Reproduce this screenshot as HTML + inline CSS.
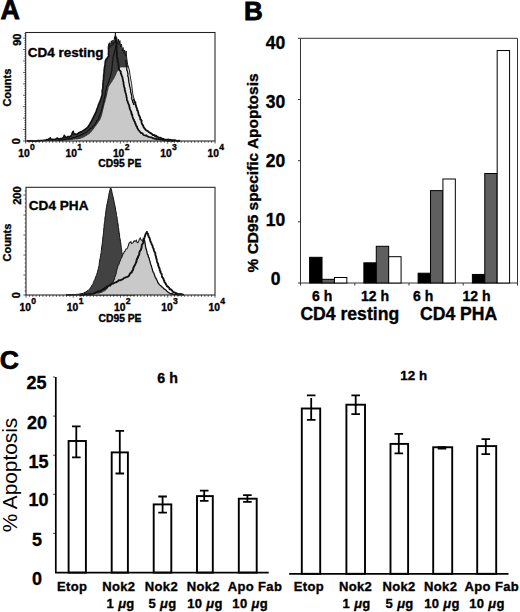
<!DOCTYPE html>
<html><head><meta charset="utf-8"><style>
html,body{margin:0;padding:0;background:#fff;}
svg{display:block;}
text{font-family:"Liberation Sans", sans-serif;fill:#000;stroke:#000;stroke-width:0.35px;}
</style></head><body>
<svg width="520" height="612" viewBox="0 0 520 612">
<rect width="520" height="612" fill="#fff"/>
<text x="0.6" y="19.2" font-size="26.8" font-weight="bold" text-anchor="start" style="stroke-width:0.8px">A</text>
<text x="244.0" y="19.6" font-size="26.0" font-weight="bold" text-anchor="start" style="stroke-width:0.8px">B</text>
<text x="-0.3" y="369.0" font-size="26.6" font-weight="bold" text-anchor="start" style="stroke-width:0.7px">C</text>
<g>
<polygon points="128.4,67.0 129.3,70.0 130.5,78.0 131.6,83.8 132.2,89.0 132.8,94.0 133.9,98.6 135.3,104.0 137.3,110.0 139.5,116.0 141.5,121.0 142.2,125.0 144.5,128.0 147.3,131.1 150.5,133.4 154.0,135.2 158.5,137.4 163.5,139.2 171.5,140.4 180.0,141.0 175.0,141.0 166.0,140.6 158.0,139.2 153.0,138.0 148.6,136.5 144.5,135.0 140.6,132.5 138.0,129.0 136.0,125.0 133.5,119.0 131.6,114.0 130.4,110.0 128.6,104.5 126.6,98.0 125.8,94.0 125.0,90.0 124.2,86.0 123.2,81.5 121.9,76.2 120.5,72.0 118.8,67.7" fill="#e6e6e6" stroke="none"/>
<polygon points="27.0,141.0 28.0,141.1 29.0,140.9 29.8,141.0 31.0,140.8 32.1,141.1 33.0,140.7 34.0,140.7 34.9,140.9 35.8,140.8 37.0,140.5 38.1,140.5 39.1,140.9 40.0,140.4 41.0,140.6 42.2,140.4 43.1,140.8 44.1,140.6 44.9,140.6 46.0,140.5 47.2,139.7 48.1,139.9 48.9,138.7 50.3,137.8 51.0,138.8 51.6,139.6 52.8,139.9 53.9,139.4 55.2,139.0 56.2,138.5 57.5,138.6 59.1,139.2 59.9,139.0 60.8,138.6 62.1,138.1 63.1,137.8 63.7,136.9 64.2,135.9 65.1,136.5 65.7,137.5 67.0,137.2 67.9,137.0 69.2,136.4 70.5,136.0 71.2,135.3 71.9,134.8 72.3,133.6 72.6,132.2 72.9,131.3 73.5,132.4 73.9,133.7 74.2,134.2 75.6,134.1 76.6,134.2 77.5,133.6 78.4,133.1 79.5,132.4 80.5,132.1 81.6,131.7 82.9,130.6 83.8,130.3 85.0,129.8 85.8,129.0 86.3,128.4 87.2,127.5 87.9,126.8 88.8,125.8 89.4,124.8 89.9,123.6 90.6,122.4 91.0,121.8 91.6,120.6 92.5,119.4 92.8,118.7 93.4,117.7 94.0,116.3 94.3,115.4 94.7,114.7 95.5,113.6 95.7,112.7 96.3,111.5 96.7,110.5 96.8,109.3 97.2,108.3 97.7,107.5 98.2,106.4 98.7,104.9 99.0,103.8 99.6,102.8 99.8,101.7 100.5,100.3 100.9,99.1 101.0,98.1 101.6,97.4 102.0,95.9 102.2,94.9 102.0,94.2 102.3,93.1 102.4,92.3 102.4,91.2 102.6,90.1 102.6,88.9 102.7,87.5 102.7,86.6 102.7,85.6 102.9,83.9 102.9,83.4 103.1,81.8 103.1,80.6 103.5,79.9 103.6,78.8 103.4,77.7 103.6,76.7 103.9,75.6 103.7,74.5 104.2,73.5 104.0,71.9 104.1,70.7 104.5,70.1 104.5,69.0 104.7,67.6 104.6,66.3 105.0,65.3 104.9,64.3 104.9,63.1 105.2,62.2 105.3,60.9 106.1,59.8 106.7,59.1 107.0,58.1 107.8,57.6 108.4,56.7 108.6,55.3 108.7,54.1 108.8,53.0 108.5,51.8 108.8,51.3 108.5,50.0 108.6,49.2 108.5,48.0 108.6,47.1 108.7,46.1 109.0,44.6 109.5,43.7 109.5,42.8 109.7,44.1 110.2,45.3 110.4,46.2 110.5,47.4 110.8,46.1 110.9,45.0 110.8,44.0 111.2,43.0 111.1,42.1 111.2,40.8 111.5,42.0 111.7,43.0 111.7,43.8 111.8,45.2 112.2,46.1 112.1,45.0 112.5,44.0 112.4,43.0 112.8,41.8 112.6,40.9 113.0,40.2 113.0,40.9 113.2,42.1 113.5,43.2 113.6,44.3 114.0,43.6 113.8,42.6 113.9,41.2 114.4,40.3 114.4,39.0 114.3,38.1 114.3,36.7 114.7,37.7 114.9,39.2 115.1,37.9 115.1,36.8 115.0,35.9 115.2,34.9 115.5,33.6 115.4,32.7 115.5,33.5 115.7,35.0 115.8,35.9 115.9,37.0 115.9,37.9 115.8,39.1 116.5,37.5 116.9,38.6 117.0,39.4 117.1,40.5 117.3,41.4 117.4,42.8 117.4,43.6 117.8,42.3 117.9,41.5 117.9,40.2 118.2,39.2 118.6,40.1 118.5,41.2 118.8,42.4 118.9,43.5 119.2,44.5 119.3,43.8 119.4,42.6 119.7,41.7 119.7,40.8 120.0,41.3 120.1,42.6 120.1,43.7 120.4,45.0 120.5,45.8 120.6,47.1 121.1,46.0 121.1,45.2 121.5,43.8 121.5,45.2 121.9,46.1 121.8,47.0 121.8,48.3 122.0,49.1 122.3,50.2 122.3,50.9 122.6,49.6 123.0,48.6 123.2,47.4 123.2,48.4 123.3,49.5 123.3,50.9 123.5,51.7 123.7,52.9 123.9,54.1 124.2,52.9 124.5,52.2 124.3,51.2 124.9,50.2 124.7,51.2 125.0,51.7 124.9,53.3 125.3,53.9 125.2,54.8 125.4,56.2 125.6,54.8 125.9,54.2 125.7,53.2 126.0,52.2 126.2,51.2 126.3,52.2 126.1,53.1 126.4,54.1 126.4,55.2 126.5,55.9 126.5,56.8 126.7,57.8 126.9,58.9 127.0,60.1 127.2,61.4 127.1,62.4 127.4,63.3 127.7,64.5 127.9,65.6 128.6,66.7 127.4,67.2 126.1,67.2 125.3,67.5 124.1,67.6 123.1,67.4 122.2,67.2 121.0,67.6 119.8,67.8 118.7,67.7 119.2,68.9 119.5,69.8 120.0,71.0 120.6,71.9 121.0,73.0 121.2,74.0 121.6,75.4 122.0,76.4 122.1,77.2 122.3,78.4 122.7,79.6 122.8,80.6 123.4,81.5 123.3,82.5 123.5,83.6 124.1,84.9 124.3,86.2 124.6,87.1 124.6,88.1 124.9,89.1 125.1,89.8 125.3,91.0 125.5,91.8 125.5,92.7 125.9,94.2 126.1,94.9 126.3,96.2 126.4,96.9 126.5,98.0 126.9,99.0 127.3,100.4 127.4,101.3 127.7,102.1 128.4,103.5 128.8,104.5 128.8,105.5 129.4,107.0 129.9,107.8 130.0,108.7 130.5,109.8 130.6,110.7 130.8,112.1 131.1,113.3 131.4,114.2 131.8,114.7 132.4,115.8 132.8,116.8 132.9,118.2 133.6,119.2 134.0,119.8 134.4,121.1 134.7,122.3 135.1,123.3 135.7,123.7 135.8,125.1 136.6,125.7 136.9,127.1 137.4,128.2 138.0,128.7 138.6,129.9 139.3,130.9 139.8,131.8 140.5,132.6 141.6,133.1 142.5,133.9 143.7,134.5 144.5,134.9 145.3,135.7 146.6,135.9 147.5,136.2 148.8,136.7 149.7,136.8 150.8,137.5 151.9,137.7 153.0,138.2 154.1,138.1 154.8,138.3 156.0,138.8 157.1,139.2 157.8,139.4 159.1,139.6 160.0,139.4 161.1,139.9 162.1,140.1 162.9,139.8 164.0,140.4 164.9,140.6 166.2,140.4 167.0,140.8 168.0,140.5 168.9,140.9 170.1,140.8 170.8,141.0 172.1,140.7 173.0,141.1 174.2,141.0 175.0,141.0" fill="#3c3c3c" stroke="none"/>
<polygon points="55.0,141.0 56.0,141.0 56.9,140.9 57.9,141.0 59.0,140.9 60.0,140.9 60.9,140.7 62.1,140.8 62.9,140.8 64.1,140.6 65.0,140.5 66.0,140.4 66.9,140.6 68.1,140.4 69.0,140.2 70.2,140.1 71.3,140.1 72.4,140.0 73.4,139.6 74.5,139.5 75.6,139.3 76.7,139.4 77.7,139.3 78.8,138.9 79.8,138.9 81.0,138.6 82.2,138.0 83.5,137.6 84.5,136.9 85.5,136.3 86.6,135.9 87.4,135.0 88.5,134.4 89.6,133.9 90.3,132.8 91.1,132.2 91.8,131.4 92.4,130.4 93.2,129.8 93.9,128.8 94.5,128.1 95.0,127.1 95.7,126.2 96.4,125.4 96.9,124.5 97.7,123.4 98.4,122.4 98.9,121.6 99.5,120.7 100.3,119.7 100.7,118.6 101.1,117.5 101.7,116.2 102.0,115.0 102.3,114.0 102.5,112.9 102.7,111.9 103.0,111.0 103.2,110.1 103.4,109.0 103.7,107.9 104.0,107.0 104.1,106.0 104.4,105.1 104.6,104.1 104.9,103.1 105.3,101.9 105.5,100.9 105.7,99.9 106.0,99.1 106.4,98.1 106.5,96.9 106.9,95.9 107.0,94.9 107.3,93.9 107.5,93.0 107.5,91.9 107.9,91.0 108.1,90.0 108.5,88.9 108.6,87.8 108.7,87.0 109.4,85.9 109.9,84.9 110.6,84.0 111.2,83.0 111.8,82.2 112.5,81.3 112.9,80.2 113.6,79.4 114.2,78.4 114.7,77.5 115.2,76.6 115.6,75.4 116.1,74.5 116.6,73.4 116.9,72.6 117.5,71.4 118.0,70.5 119.4,70.5 119.8,71.5 120.1,72.6 120.6,73.6 120.8,74.6 121.2,75.6 121.5,76.6 122.0,77.5 122.3,78.5 122.7,79.4 123.1,80.4 123.3,81.4 123.7,82.7 124.0,83.6 124.4,84.8 124.6,86.0 125.0,87.0 125.2,87.9 125.5,89.1 125.6,89.9 125.8,91.0 125.9,91.9 126.0,92.9 126.2,94.1 126.2,95.0 126.4,95.9 126.6,97.1 126.8,98.0 127.2,99.2 127.4,100.3 127.8,101.2 128.0,102.3 128.4,103.6 128.8,104.6 129.0,105.7 129.1,106.7 129.6,107.9 129.7,108.9 130.0,110.0 130.2,110.9 130.4,112.0 130.5,112.9 130.9,114.1 131.3,115.0 131.6,116.1 132.0,116.9 132.3,117.9 132.7,118.9 133.1,120.1 133.6,120.9 134.0,122.0 134.5,122.9 134.7,124.0 135.1,125.0 135.8,126.0 136.2,127.0 136.7,127.9 137.1,128.9 137.8,129.8 138.5,130.7 139.1,131.6 139.9,132.5 140.8,133.2 141.7,133.9 142.7,134.5 143.7,135.2 144.7,135.5 145.7,136.0 146.8,136.4 147.7,136.8 149.0,137.1 150.0,137.5 151.1,138.1 152.2,138.4 153.1,138.4 154.3,138.8 155.1,139.0 156.2,139.3 157.1,139.4 158.4,139.8 159.4,139.8 160.5,140.1 161.7,140.3 162.8,140.4 163.9,140.7 165.1,140.8 166.1,140.9 167.1,140.7 168.1,140.7 169.1,140.9 170.0,141.1 171.0,140.9 172.0,141.0" fill="#c9c9c9" stroke="none"/>
<polyline points="115.6,36.0 115.5,36.9 115.9,38.4 115.6,38.9 115.7,40.4 115.8,40.6 115.8,41.9 116.4,43.3 116.4,44.4 116.6,44.8 116.1,46.4 116.6,46.6 116.6,47.9 116.5,48.8 116.4,49.6 116.5,50.9 117.0,51.7 117.1,52.7 116.7,54.3 117.1,54.9 116.7,56.0 117.1,57.4 117.1,57.9 117.7,58.6 117.5,60.3 117.9,60.6 117.5,61.6 118.3,62.9 118.4,64.6 118.3,65.2 118.9,66.7 118.6,67.9 119.1,68.6 119.3,70.1 120.4,71.0 120.8,71.6 120.7,73.0 121.5,74.5 121.5,74.9 121.9,76.2 122.5,77.0 122.6,78.5 122.9,79.6 123.0,80.3 123.1,81.4 123.6,82.2 123.5,84.0 123.8,84.5 123.9,86.0 124.3,87.4 124.9,88.4 124.6,88.6 124.7,90.0 125.3,91.0 125.2,91.9 125.7,93.2 126.0,94.3 126.1,94.7 126.4,95.8 126.4,96.9 126.8,97.7 126.8,98.9 127.0,100.5 127.7,101.1 127.9,102.8 128.3,103.2 128.8,104.6 129.3,105.2 129.3,107.0 129.9,108.2 129.7,108.7 130.1,109.7 131.0,111.1 131.3,111.9 131.6,113.0 131.4,114.2 132.3,114.6 132.4,116.1 132.5,116.9 132.9,117.7 133.3,119.1 134.0,119.7 134.0,120.8 134.9,121.7 135.0,122.7 135.8,124.0 135.7,124.6 136.4,126.0 137.1,126.6 137.3,128.2 137.9,128.8 138.5,130.3 139.2,130.8 139.9,131.5 140.9,132.9 141.5,132.9 142.7,133.5 143.2,134.7 144.4,135.3 145.5,135.7 146.5,135.4 147.2,136.2 148.7,136.9 149.4,137.0 150.7,137.3 151.7,137.4 153.0,138.4 153.7,138.2 155.2,138.9 155.8,138.4 157.3,139.4 158.0,138.8 159.3,139.3 160.3,139.7 161.2,139.4 162.2,139.6 162.9,140.4 164.2,140.0 164.8,140.3 166.0,140.5 166.7,140.4 168.2,141.0 168.7,140.8 170.2,140.4 171.2,140.5 172.1,140.9 173.1,140.7 173.9,141.0 175.0,141.0" fill="none" stroke="#111" stroke-width="1.75" stroke-linejoin="round"/>
<polyline points="125.6,60.0 125.9,61.3 126.0,61.9 126.0,63.0 126.4,63.9 126.3,65.0 126.4,65.9 126.8,67.2 126.8,68.0 126.7,68.9 126.8,70.1 127.2,70.7 127.6,71.9 127.7,73.2 128.0,73.8 127.8,75.3 127.7,75.7 128.2,77.0 128.6,78.2 128.5,79.3 128.6,80.0 128.8,80.9 128.8,82.1 129.1,83.3 129.5,84.0 129.3,84.9 129.6,86.0 129.9,87.3 130.3,88.0 130.2,89.1 130.7,89.9 130.6,91.2 130.5,91.9 131.2,93.2 131.1,93.7 131.6,95.1 131.7,96.3 131.9,96.9 131.5,97.9 131.9,99.0 132.0,99.8 132.6,101.1 132.7,102.3 133.3,102.7 133.5,104.2 134.0,105.0" fill="none" stroke="#111" stroke-width="1.3" stroke-linejoin="round"/>
<polyline points="116.3,45.0 115.9,46.1 115.5,46.9 115.7,48.1 115.4,48.8 115.0,50.0 114.6,51.1 114.5,52.3 114.3,52.9 113.8,53.8 113.9,54.8 113.2,55.8 113.2,57.2 113.1,58.2 112.7,58.7 113.0,59.9 112.8,60.9 112.4,61.9 112.3,63.2 112.5,63.9 112.3,64.9 112.0,66.2 112.2,67.3 112.0,68.1 111.7,68.7 112.0,70.2 111.4,71.2 111.6,71.9 111.2,73.3 110.9,74.3 110.5,74.9 110.6,75.8 110.1,77.2 109.9,78.2 109.4,78.8 109.2,79.8 109.2,80.9 108.6,81.8 108.2,83.1 107.7,84.0 107.2,85.6 106.9,86.3 106.5,87.5 106.2,88.5 106.2,89.8 105.6,91.1 105.4,91.9 105.6,92.8 105.2,94.2 105.3,94.8 104.8,96.1 104.6,97.3 104.3,98.3 104.2,98.8 104.0,99.8 103.9,100.9 103.8,102.1 103.2,102.8 103.1,103.8 103.0,104.8 102.5,106.0 102.1,107.2 102.0,108.1 101.8,108.9 101.5,109.8 101.1,111.2 100.9,112.1 100.4,113.0 100.2,114.0 99.8,114.7 99.5,115.8 98.9,117.0 98.6,117.7 98.5,118.9 98.1,119.8 97.2,120.4 96.5,121.6 96.2,122.4 95.4,123.6 94.9,124.3 94.2,125.3 93.3,126.1 92.2,127.4 91.7,128.1 90.4,128.5 89.6,129.3 88.8,130.2 87.7,130.9 87.1,131.5 86.2,132.3 85.1,132.8 84.0,133.7 83.0,133.7 82.4,134.6 81.2,134.6 80.6,135.4 79.2,135.6 78.2,136.3 77.1,136.8 76.3,136.6 75.2,137.2 74.1,137.8 72.9,137.6 72.3,138.0 71.3,138.4 70.1,138.7 69.1,138.7 67.7,139.1 67.0,139.2 66.3,139.1 65.2,139.2 64.1,139.8 62.9,139.8 62.3,139.9 61.0,139.8 59.7,140.0 58.9,140.1 58.0,140.4" fill="none" stroke="#111" stroke-width="1.2" stroke-linejoin="round"/>
<polyline points="27.0,141.0 27.9,140.8 29.1,141.1 29.9,140.8 31.0,140.9 32.2,140.8 32.9,141.2 33.9,141.0 34.9,141.1 36.0,141.0 36.9,140.9 38.0,140.7 39.1,140.9 39.8,140.6 40.9,140.5 41.8,140.5 42.9,140.6 44.0,140.2 44.9,140.3 45.9,140.0 46.8,139.6 48.2,139.8 48.9,138.9 50.4,138.0 50.7,138.9 51.5,139.6 52.8,139.4 54.2,139.6 55.3,139.4 56.5,138.6 57.5,138.1 58.8,139.2 60.1,138.7 60.9,138.7 62.1,138.5 62.9,138.0 63.8,136.8 64.3,135.4 65.1,136.5 65.5,137.6 66.7,137.4 67.9,136.5 69.2,136.6 70.5,136.4 71.3,135.7 71.8,134.5 72.1,133.4 72.7,132.2 73.2,131.3 73.5,132.7 73.7,133.2 74.3,134.2 75.6,134.1 76.9,134.5 77.8,133.6 78.4,133.1 79.5,132.5 80.4,132.1 81.8,131.6 83.2,130.6 83.9,130.2 84.9,129.6 85.7,128.9 86.4,128.3 87.3,127.8 87.9,127.1 88.8,125.8 89.6,124.3 90.1,123.7 90.6,122.6 91.4,121.6 91.8,120.5 92.3,119.8 92.7,118.4 93.5,117.5 93.7,116.6 94.3,115.5 94.9,114.5 95.4,113.4 95.7,112.3 96.4,111.6 96.4,110.8 96.9,109.3 97.3,108.5 97.7,107.4 98.1,106.2 98.4,105.0 99.1,103.6 99.4,102.5 99.9,101.8 100.3,100.6 100.8,99.1 101.3,98.4 101.3,97.3 101.9,95.8 102.2,95.0 102.2,93.8 102.3,92.7 102.2,91.9 102.2,91.1 102.4,89.8 102.7,88.7 102.9,87.7 102.9,86.5 103.1,85.6 102.9,84.4 103.0,83.3 103.3,82.2 103.1,80.8 103.5,80.1 103.6,78.4 103.6,77.4 103.7,76.7 103.6,75.7 104.0,74.2 103.9,73.2 104.3,72.1 104.1,70.7 104.2,70.1 104.4,68.8 104.5,67.8 104.7,66.4 105.0,65.5 105.1,64.5 105.3,62.9 105.2,61.9 105.4,61.2 106.0,59.5 106.4,59.2 107.3,58.1 107.8,57.2 108.6,56.5 108.7,55.5 108.4,54.2 108.5,53.4 108.7,51.7 108.5,50.9 108.6,50.0 108.6,48.9 108.4,48.0 108.6,46.6 108.8,46.1 108.9,44.6 109.5,43.6 109.7,42.7" fill="none" stroke="#111" stroke-width="1.7" stroke-linejoin="round"/>
<polyline points="109.7,42.7 110.5,47.5 111.3,40.8 112.1,46.0 112.9,40.0 113.7,44.5 114.5,36.9 114.9,39.0 115.4,32.6 115.9,39.0 116.7,37.5 117.5,43.5 118.3,39.0 119.1,44.5 119.9,40.5 120.7,47.0 121.5,44.0 122.3,51.0 123.1,47.5 123.9,54.0 124.7,50.0 125.5,56.0 126.1,51.0 126.6,57.0 127.6,64.3 128.4,67.0 129.3,70.0 130.5,78.0 131.6,83.8 132.2,89.0 132.8,94.0 133.9,98.6" fill="none" stroke="#111" stroke-width="0.9" stroke-linejoin="miter"/>
<polyline points="133.9,98.6 134.0,99.7 134.3,100.8 134.8,102.3 135.4,102.5 135.3,104.3 135.9,105.3 136.1,106.1 136.2,106.8 136.9,108.4 137.3,109.2 137.1,110.3 137.9,111.0 138.1,111.9 138.4,112.9 138.4,113.8 139.0,115.5 139.5,115.9 139.7,116.7 140.2,117.6 140.3,119.4 141.1,119.9 141.6,120.8 141.4,121.6 141.7,122.8 142.2,124.1 142.5,124.8 143.3,126.1 143.4,126.7 144.6,128.5 145.1,129.0 145.8,129.9 146.3,130.3 147.6,130.9 148.2,131.4 149.2,132.4 150.7,133.1 151.6,133.7 152.9,135.0 154.1,134.9 155.1,136.1 155.9,135.7 156.9,136.9 157.5,136.6 158.3,137.4 159.8,137.9 160.8,137.8 161.4,138.7 162.6,138.7 163.6,139.0 164.1,139.3 165.1,139.6 166.4,139.6 167.6,139.6 168.5,139.5 169.8,140.2 170.9,139.8 171.6,140.6 172.4,140.1 173.3,140.2 174.9,140.2 176.0,140.6 176.8,140.9 177.9,141.0 179.0,140.8 180.0,141.0" fill="none" stroke="#111" stroke-width="1.9" stroke-linejoin="round"/>
</g>
<rect x="25.7" y="32.5" width="189.3" height="108.5" fill="none" stroke="#222" stroke-width="1.05"/>
<path d="M23.10,141.00h2.6M24.40,138.71h1.3M24.40,136.43h1.3M24.40,134.14h1.3M24.40,131.86h1.3M23.10,129.57h2.6M24.40,127.28h1.3M24.40,125.00h1.3M24.40,122.71h1.3M24.40,120.43h1.3M23.10,118.14h2.6M24.40,115.85h1.3M24.40,113.57h1.3M24.40,111.28h1.3M24.40,109.00h1.3M23.10,106.71h2.6M24.40,104.42h1.3M24.40,102.14h1.3M24.40,99.85h1.3M24.40,97.57h1.3M23.10,95.28h2.6M24.40,92.99h1.3M24.40,90.71h1.3M24.40,88.42h1.3M24.40,86.14h1.3M23.10,83.85h2.6M24.40,81.56h1.3M24.40,79.28h1.3M24.40,76.99h1.3M24.40,74.71h1.3M23.10,72.42h2.6M24.40,70.13h1.3M24.40,67.85h1.3M24.40,65.56h1.3M24.40,63.28h1.3M23.10,60.99h2.6M24.40,58.70h1.3M24.40,56.42h1.3M24.40,54.13h1.3M24.40,51.85h1.3M23.10,49.56h2.6M24.40,47.27h1.3M24.40,44.99h1.3M24.40,42.70h1.3M24.40,40.42h1.3M23.10,38.13h2.6M24.40,35.84h1.3M24.40,33.56h1.3" stroke="#222" stroke-width="0.75" fill="none"/>
<path d="M25.70,141.00v2.6M29.08,141.00v1.8M32.46,141.00v1.8M35.84,141.00v1.8M39.22,141.00v1.8M42.60,141.00v1.8M45.98,141.00v1.8M49.36,141.00v1.8M52.74,141.00v1.8M56.12,141.00v1.8M59.50,141.00v1.8M62.88,141.00v1.8M66.26,141.00v1.8M69.64,141.00v1.8M73.03,141.00v2.6M76.41,141.00v1.8M79.79,141.00v1.8M83.17,141.00v1.8M86.55,141.00v1.8M89.93,141.00v1.8M93.31,141.00v1.8M96.69,141.00v1.8M100.07,141.00v1.8M103.45,141.00v1.8M106.83,141.00v1.8M110.21,141.00v1.8M113.59,141.00v1.8M116.97,141.00v1.8M120.35,141.00v2.6M123.73,141.00v1.8M127.11,141.00v1.8M130.49,141.00v1.8M133.87,141.00v1.8M137.25,141.00v1.8M140.63,141.00v1.8M144.01,141.00v1.8M147.39,141.00v1.8M150.77,141.00v1.8M154.15,141.00v1.8M157.53,141.00v1.8M160.91,141.00v1.8M164.29,141.00v1.8M167.67,141.00v2.6M171.06,141.00v1.8M174.44,141.00v1.8M177.82,141.00v1.8M181.20,141.00v1.8M184.58,141.00v1.8M187.96,141.00v1.8M191.34,141.00v1.8M194.72,141.00v1.8M198.10,141.00v1.8M201.48,141.00v1.8M204.86,141.00v1.8M208.24,141.00v1.8M211.62,141.00v1.8M215.00,141.00v2.6" stroke="#222" stroke-width="0.75" fill="none"/>
<text x="18.2" y="156.5" font-size="10.3" font-weight="bold">10<tspan font-size="8.6" dy="-6.2" dx="0.4">0</tspan></text>
<text x="65.5" y="156.5" font-size="10.3" font-weight="bold">10<tspan font-size="8.6" dy="-6.2" dx="0.4">1</tspan></text>
<text x="112.9" y="156.5" font-size="10.3" font-weight="bold">10<tspan font-size="8.6" dy="-6.2" dx="0.4">2</tspan></text>
<text x="160.2" y="156.5" font-size="10.3" font-weight="bold">10<tspan font-size="8.6" dy="-6.2" dx="0.4">3</tspan></text>
<text x="207.5" y="156.5" font-size="10.3" font-weight="bold">10<tspan font-size="8.6" dy="-6.2" dx="0.4">4</tspan></text>
<text x="119.8" y="167.4" font-size="10.3" font-weight="bold" text-anchor="middle">CD95 PE</text>
<text transform="translate(20.6,33.6) rotate(-90)" font-size="11" font-weight="bold" text-anchor="end">90</text>
<text transform="translate(20.1,144.2) rotate(-90)" font-size="11" font-weight="bold" text-anchor="start">0</text>
<text transform="translate(10.6,106.6) rotate(-90)" font-size="11" font-weight="bold">Counts</text>
<text x="27.8" y="57.2" font-size="13.5" font-weight="bold" text-anchor="start" >CD4 resting</text>
<polygon points="66.0,295.0 67.1,294.9 68.1,295.0 69.1,294.8 70.1,295.1 71.0,294.7 72.0,295.0 72.9,294.5 74.0,294.7 75.1,294.5 76.1,294.4 77.1,294.3 77.9,294.3 78.9,294.2 80.0,293.9 81.1,293.7 81.9,293.5 83.1,293.4 83.9,292.6 85.1,292.3 86.1,291.8 87.0,291.1 88.1,290.6 88.9,289.7 89.9,288.6 90.5,287.6 91.2,286.6 91.7,285.5 92.5,284.7 93.1,283.6 93.3,282.6 93.7,281.7 94.1,280.7 94.7,280.0 94.9,279.2 95.3,277.9 95.7,276.9 96.3,275.6 96.7,274.7 96.9,273.4 97.3,272.6 97.5,271.4 97.9,270.2 98.2,269.3 98.4,268.2 98.7,267.1 99.0,265.9 99.2,265.2 99.2,263.8 99.3,263.2 99.4,262.2 99.6,261.1 99.7,259.9 100.1,258.8 100.1,258.2 100.4,257.2 100.7,255.8 100.6,255.1 100.9,253.8 101.1,252.9 101.2,251.8 101.2,251.2 101.4,250.2 101.5,249.0 101.6,248.0 101.7,247.1 101.9,246.1 102.1,244.8 102.2,244.0 102.4,242.9 102.3,242.2 102.7,241.1 102.6,239.9 102.7,238.8 102.7,238.0 103.0,237.0 103.1,235.8 103.3,235.1 103.3,234.0 103.5,233.2 103.6,232.1 103.6,230.9 103.7,230.2 103.8,229.0 103.9,227.9 104.1,226.8 104.1,226.2 104.1,225.0 104.3,223.9 104.4,222.8 104.7,222.1 104.8,220.8 104.8,219.9 104.9,219.0 104.9,218.2 105.0,217.1 105.4,216.0 105.4,215.2 105.5,214.1 105.7,213.0 105.9,212.0 105.9,211.0 106.1,209.9 106.2,209.0 106.3,208.0 106.5,207.2 106.7,206.1 106.9,205.0 107.0,203.9 107.4,203.0 107.5,202.0 107.8,200.9 107.8,200.1 108.0,199.1 108.3,198.2 108.5,196.8 108.6,196.1 108.9,194.8 108.9,193.9 109.2,192.9 109.6,192.0 109.7,190.7 110.0,190.0 110.3,188.7 110.5,187.7 111.1,188.7 111.6,189.9 111.7,190.9 111.9,191.9 112.1,192.8 112.3,194.0 112.5,194.9 112.9,195.9 113.0,196.9 113.4,197.8 113.6,199.1 113.7,200.0 114.0,201.0 114.1,201.8 114.3,202.9 114.6,203.9 114.7,205.1 115.0,205.9 115.1,207.0 115.4,207.9 115.6,209.1 115.6,210.1 115.8,211.0 116.1,212.1 116.3,213.2 116.6,214.4 116.5,215.4 116.8,216.4 117.1,217.5 117.2,218.7 117.3,219.6 117.5,220.8 117.7,221.8 117.8,222.6 118.0,223.9 118.2,225.0 118.2,225.9 118.3,227.1 118.4,227.8 118.8,229.0 118.7,230.1 119.0,231.0 119.0,232.1 119.2,233.0 119.5,234.1 119.6,234.9 119.6,236.0 119.6,237.2 119.9,237.9 120.0,238.9 120.3,240.0 120.4,241.0 120.4,241.9 120.8,243.1 120.9,243.9 120.9,244.9 121.1,246.1 121.2,247.2 121.4,248.2 121.6,249.2 121.8,250.4 121.7,251.4 122.0,252.5 122.2,253.5 122.4,254.7 122.6,255.8 123.0,256.8 123.1,258.0 123.3,259.0 123.4,259.9 123.8,260.8 124.1,261.8 124.2,262.9 124.5,264.0 124.7,265.0 124.9,266.1 124.9,266.9 125.3,267.9 125.5,268.9 125.5,269.8 125.9,271.2 126.0,272.1 126.1,273.2 126.5,273.9 126.5,275.1 126.7,276.1 126.9,276.9 127.2,277.9 127.4,278.9 127.7,279.9 127.9,280.9 128.1,282.2 128.3,282.8 128.7,284.1 129.0,285.0 129.4,286.0 129.9,287.0 130.3,287.8 130.7,288.8 131.1,290.2 131.8,290.8 132.3,291.6 133.1,292.5 133.8,293.2 134.3,294.3 135.0,295.0" fill="#424242" stroke="#111" stroke-width="1.0"/>
<polygon points="72.0,295.0 73.0,295.0 73.8,294.8 74.9,295.1 76.1,294.7 77.2,294.6 78.0,295.0 78.9,295.0 80.1,294.5 80.9,294.7 81.9,294.8 82.9,294.8 83.9,294.4 85.0,294.4 86.1,294.7 87.1,294.5 87.9,294.5 89.0,294.5 90.1,294.4 91.2,294.2 92.4,294.1 93.2,294.4 94.3,294.3 95.6,294.1 96.3,293.8 97.7,293.8 98.6,293.7 99.6,293.4 100.7,293.1 102.0,292.7 102.9,292.2 103.9,291.4 104.9,291.2 105.8,290.4 106.3,289.7 107.2,288.9 108.0,288.1 108.6,287.1 109.2,285.9 109.8,284.9 111.0,283.9 112.2,282.8 112.9,281.9 113.8,281.1 114.1,279.8 114.2,279.0 114.8,277.8 115.0,277.1 115.3,275.9 115.6,275.0 116.0,273.8 116.3,272.9 116.3,271.6 116.5,270.9 117.0,269.5 117.2,268.4 117.4,267.4 117.8,266.7 118.5,265.5 118.7,264.2 119.3,263.4 119.7,262.2 119.9,261.1 120.6,260.1 120.7,259.1 121.2,257.8 121.9,257.1 122.2,255.8 122.6,255.2 123.3,254.1 123.9,253.2 124.4,252.0 125.1,251.1 125.8,250.0 126.4,249.3 127.1,248.2 127.7,247.6 127.8,246.7 128.2,245.3 128.8,244.4 129.2,243.7 130.1,242.6 130.9,241.6 131.6,242.7 132.2,244.0 133.2,242.3 133.9,241.7 134.3,240.6 135.4,241.3 136.0,240.3 137.0,241.8 138.3,242.8 138.6,241.7 138.8,240.5 139.1,239.7 140.3,237.9 140.6,238.9 141.4,240.0 142.3,241.4 142.5,240.1 143.0,239.0 144.3,239.4 144.8,240.4 144.6,241.7 145.0,242.7 145.1,243.5 145.5,244.5 145.7,245.4 145.8,246.4 145.9,247.4 145.9,248.9 146.2,249.9 146.5,250.7 146.8,251.8 147.4,252.9 147.6,254.2 148.2,255.1 148.2,256.1 148.7,257.3 149.0,258.3 149.4,259.2 149.7,260.4 150.2,261.3 150.2,262.6 150.4,263.6 151.0,264.5 151.2,265.6 151.7,266.6 151.9,267.4 152.1,268.5 152.7,270.0 152.7,270.9 153.2,271.8 153.6,273.2 154.2,274.1 154.7,275.2 155.1,276.4 155.7,277.6 156.1,278.6 156.5,279.8 157.1,280.7 157.4,281.4 158.0,282.8 158.9,283.5 159.3,284.5 160.4,285.2 161.1,285.9 161.7,286.5 162.5,287.3 163.6,288.4 164.2,288.9 165.3,289.6 165.9,290.6 166.8,291.1 167.8,291.8 169.0,292.4 169.6,293.4 170.7,293.6 171.9,293.9 172.8,293.8 174.0,294.2 175.0,294.6 176.1,294.5 176.9,294.9 178.0,294.7 179.1,294.8 180.0,295.0" fill="#c9c9c9" stroke="none"/>
<polyline points="110.0,285.0 111.2,283.7 112.2,283.0 112.8,282.3 113.6,280.8 113.8,280.0 114.5,279.1 114.6,278.2 114.7,276.9 115.3,276.3 115.6,275.1 116.0,273.9 116.3,273.1 116.3,271.8 116.8,270.6 116.7,269.9 117.2,268.6 117.6,267.8 117.7,266.3 118.1,265.3 118.8,264.5 119.3,263.2 119.5,262.1 119.9,261.2 120.6,260.2 120.6,259.1 121.4,258.0 121.9,257.3 122.2,256.2 122.6,255.3 122.9,254.1 123.9,253.1 124.2,251.7 125.1,251.2 125.5,249.9 126.1,249.0 127.0,248.7 127.7,247.4 128.0,246.2 128.6,245.4 128.5,244.6 129.0,243.3 129.8,242.5 130.9,241.7 131.2,242.9 131.8,243.6 133.3,242.4 133.7,241.6 134.2,240.8 135.1,241.4 136.4,240.3 136.9,242.2 137.9,242.8 138.5,241.4 138.9,240.8 139.3,239.4 140.3,238.1 140.6,239.3 141.6,240.2 142.5,241.1 143.0,239.7 143.2,238.5 144.4,239.5" fill="none" stroke="#222" stroke-width="1.1"/>
<polyline points="144.4,239.5 144.6,240.6 144.8,241.5 144.9,242.3 145.1,243.4 145.2,244.6 145.5,245.5 145.5,246.7 145.7,247.5 146.0,248.8 146.4,249.8 146.7,251.0 147.0,252.0 147.1,252.7 147.4,254.2 148.1,255.1 148.2,256.0 148.5,257.2 149.2,258.1 149.2,259.0 149.6,260.5 150.1,261.3 150.1,262.1 150.5,263.6 150.9,264.7 151.4,265.6 151.5,266.7 151.7,267.4 152.2,268.7 152.4,269.7 152.7,271.1 153.3,272.3 153.9,273.1 154.2,274.1 154.7,275.5 154.9,276.1 155.4,277.6 156.0,278.2 156.6,279.7 157.0,280.3 157.7,281.6 157.8,282.5 158.8,283.8 159.5,284.6 160.1,285.2 161.2,286.0 161.6,286.8 162.5,287.2 163.4,288.3 164.4,289.1 165.1,289.5 166.1,290.3 166.9,291.2 167.9,292.0 168.7,292.6 169.8,293.2 170.6,293.7 171.9,293.5 172.8,294.3 173.8,294.2 175.1,294.7 176.1,294.7 176.8,294.5 178.2,295.0 178.8,294.6 180.0,295.0" fill="none" stroke="#111" stroke-width="1.3"/>
<polyline points="80.0,295.0 80.8,295.3 81.8,295.0 83.3,294.9 84.3,294.4 84.8,294.1 86.2,294.1 87.3,294.6 87.8,294.6 88.8,294.1 89.7,294.2 91.3,294.2 91.7,293.9 93.0,293.7 94.0,293.3 95.1,293.3 95.7,292.2 97.0,292.1 97.9,291.5 99.2,291.2 100.2,291.6 101.2,290.3 102.6,289.7 103.3,289.0 104.6,288.8 105.0,287.8 106.2,287.9 107.2,286.6 107.9,286.2 109.2,285.4 110.1,285.7 111.2,284.2 111.7,283.7 113.1,283.6 114.0,283.0 114.8,282.6 115.9,282.4 116.8,281.8 117.8,281.3 118.8,280.1 120.0,280.4 121.0,280.0 121.8,279.6 123.0,279.0 123.8,278.2 124.9,277.8 125.7,277.3 127.3,276.8 128.3,276.3 129.0,275.8 129.6,274.4 130.0,273.8 130.6,272.9 131.7,272.6 131.8,271.4 132.7,270.5 133.2,269.1 133.2,268.3 133.8,267.2 134.2,266.1 135.1,264.8 135.2,264.3 135.6,263.6 135.9,262.6 136.5,261.7 136.5,260.0 137.0,259.7 137.2,258.1 138.0,257.9 138.0,256.4 138.7,255.7 139.2,254.6 139.3,253.0 139.5,252.2 140.1,250.7 141.0,249.9 141.1,248.9 141.5,247.8 141.7,246.1 141.8,245.0 142.4,244.2 142.6,243.6 143.5,242.8 143.3,241.8 143.5,240.2 143.8,239.4 144.3,238.4 144.6,237.1 145.0,236.4 145.2,235.1 145.7,234.0 146.2,233.3 146.9,231.8 146.9,232.7 147.9,233.7 148.1,235.1 148.5,235.7 148.6,236.6 149.6,238.0 149.8,239.2 150.0,239.6 150.4,241.4 150.9,242.5 151.5,243.3 151.6,244.4 152.1,245.0 152.6,245.8 152.7,247.5 153.1,248.0 153.7,248.8 153.7,249.8 154.1,250.9 154.6,252.1 155.2,252.9 155.4,254.8 155.4,255.1 155.9,256.3 156.2,257.9 156.2,258.4 156.8,259.5 156.9,260.9 157.1,261.6 157.6,263.1 158.3,264.2 158.0,265.0 158.7,266.4 159.1,267.9 159.4,268.1 159.8,269.6 159.7,270.3 160.6,271.4 160.4,272.5 161.4,273.7 161.7,274.4 161.9,275.7 162.2,277.2 162.8,277.7 163.7,279.2 163.6,279.8 164.4,281.3 164.5,282.2 165.6,283.2 165.8,284.1 166.6,285.2 166.9,286.1 168.1,286.9 168.7,287.3 169.3,288.0 169.5,289.2 170.8,289.3 171.2,289.8 172.1,290.5 172.8,291.7 174.0,292.4 174.8,292.5 175.5,293.2 176.6,293.2 177.9,294.0 178.9,294.4 180.1,294.0 181.5,294.2 182.9,294.7 183.8,295.0" fill="none" stroke="#111" stroke-width="1.9" stroke-linejoin="round"/>
<rect x="26" y="187.3" width="189" height="107.69999999999999" fill="none" stroke="#222" stroke-width="1.05"/>
<path d="M23.40,295.00h2.6M24.70,291.00h1.3M24.70,287.00h1.3M24.70,283.00h1.3M24.70,279.00h1.3M23.40,275.00h2.6M24.70,271.00h1.3M24.70,267.00h1.3M24.70,263.00h1.3M24.70,259.00h1.3M23.40,255.00h2.6M24.70,251.00h1.3M24.70,247.00h1.3M24.70,243.00h1.3M24.70,239.00h1.3M23.40,235.00h2.6M24.70,231.00h1.3M24.70,227.00h1.3M24.70,223.00h1.3M24.70,219.00h1.3M23.40,215.00h2.6M24.70,211.00h1.3M24.70,207.00h1.3M24.70,203.00h1.3M24.70,199.00h1.3M23.40,195.00h2.6M24.70,191.00h1.3" stroke="#222" stroke-width="0.75" fill="none"/>
<path d="M26.00,295.00v2.6M29.38,295.00v1.8M32.75,295.00v1.8M36.12,295.00v1.8M39.50,295.00v1.8M42.88,295.00v1.8M46.25,295.00v1.8M49.62,295.00v1.8M53.00,295.00v1.8M56.38,295.00v1.8M59.75,295.00v1.8M63.12,295.00v1.8M66.50,295.00v1.8M69.88,295.00v1.8M73.25,295.00v2.6M76.62,295.00v1.8M80.00,295.00v1.8M83.38,295.00v1.8M86.75,295.00v1.8M90.12,295.00v1.8M93.50,295.00v1.8M96.88,295.00v1.8M100.25,295.00v1.8M103.62,295.00v1.8M107.00,295.00v1.8M110.38,295.00v1.8M113.75,295.00v1.8M117.12,295.00v1.8M120.50,295.00v2.6M123.88,295.00v1.8M127.25,295.00v1.8M130.62,295.00v1.8M134.00,295.00v1.8M137.38,295.00v1.8M140.75,295.00v1.8M144.12,295.00v1.8M147.50,295.00v1.8M150.88,295.00v1.8M154.25,295.00v1.8M157.62,295.00v1.8M161.00,295.00v1.8M164.38,295.00v1.8M167.75,295.00v2.6M171.12,295.00v1.8M174.50,295.00v1.8M177.88,295.00v1.8M181.25,295.00v1.8M184.62,295.00v1.8M188.00,295.00v1.8M191.38,295.00v1.8M194.75,295.00v1.8M198.12,295.00v1.8M201.50,295.00v1.8M204.88,295.00v1.8M208.25,295.00v1.8M211.62,295.00v1.8M215.00,295.00v2.6" stroke="#222" stroke-width="0.75" fill="none"/>
<text x="19.5" y="310.5" font-size="10.3" font-weight="bold">10<tspan font-size="8.6" dy="-6.2" dx="0.4">0</tspan></text>
<text x="66.8" y="310.5" font-size="10.3" font-weight="bold">10<tspan font-size="8.6" dy="-6.2" dx="0.4">1</tspan></text>
<text x="114.0" y="310.5" font-size="10.3" font-weight="bold">10<tspan font-size="8.6" dy="-6.2" dx="0.4">2</tspan></text>
<text x="161.2" y="310.5" font-size="10.3" font-weight="bold">10<tspan font-size="8.6" dy="-6.2" dx="0.4">3</tspan></text>
<text x="208.5" y="310.5" font-size="10.3" font-weight="bold">10<tspan font-size="8.6" dy="-6.2" dx="0.4">4</tspan></text>
<text x="120.0" y="322.4" font-size="10.3" font-weight="bold" text-anchor="middle">CD95 PE</text>
<text transform="translate(20.9,186.2) rotate(-90)" font-size="11.2" font-weight="bold" text-anchor="end">200</text>
<text transform="translate(20.1,298.2) rotate(-90)" font-size="11" font-weight="bold" text-anchor="start">0</text>
<text transform="translate(10.8,261.5) rotate(-90)" font-size="11" font-weight="bold">Counts</text>
<text x="28.8" y="209.6" font-size="13.6" font-weight="bold" text-anchor="start" >CD4 PHA</text>
<path d="M300.5,38.3H517.5V283H300.5Z" fill="none" stroke="#333" stroke-width="1"/>
<path d="M298.0,283.0h2.5M298.0,221.8h2.5M298.0,160.7h2.5M298.0,99.5h2.5M298.0,38.3h2.5M300.5,283v2.5M354.8,283v2.5M409.0,283v2.5M463.2,283v2.5M517.5,283v2.5" stroke="#333" stroke-width="1" fill="none"/>
<text x="275.6" y="284.5" font-size="17.5" font-weight="bold" text-anchor="middle">0</text>
<text x="275.6" y="225.7" font-size="17.5" font-weight="bold" text-anchor="middle">10</text>
<text x="275.6" y="166.9" font-size="17.5" font-weight="bold" text-anchor="middle">20</text>
<text x="275.6" y="108.1" font-size="17.5" font-weight="bold" text-anchor="middle">30</text>
<text x="275.6" y="49.3" font-size="17.5" font-weight="bold" text-anchor="middle">40</text>
<rect x="309.62" y="257.31" width="12.4" height="25.69" fill="#000" stroke="#000" stroke-width="1"/>
<rect x="322.02" y="279.33" width="12.4" height="3.67" fill="#5f5f5f" stroke="#000" stroke-width="1"/>
<rect x="334.43" y="277.49" width="12.4" height="5.51" fill="#fff" stroke="#000" stroke-width="1"/>
<rect x="363.88" y="262.81" width="12.4" height="20.19" fill="#000" stroke="#000" stroke-width="1"/>
<rect x="376.27" y="246.30" width="12.4" height="36.70" fill="#5f5f5f" stroke="#000" stroke-width="1"/>
<rect x="388.68" y="256.69" width="12.4" height="26.31" fill="#fff" stroke="#000" stroke-width="1"/>
<rect x="418.12" y="273.21" width="12.4" height="9.79" fill="#000" stroke="#000" stroke-width="1"/>
<rect x="430.52" y="190.63" width="12.4" height="92.37" fill="#5f5f5f" stroke="#000" stroke-width="1"/>
<rect x="442.93" y="179.00" width="12.4" height="104.00" fill="#fff" stroke="#000" stroke-width="1"/>
<rect x="472.38" y="274.44" width="12.4" height="8.56" fill="#000" stroke="#000" stroke-width="1"/>
<rect x="484.77" y="173.50" width="12.4" height="109.50" fill="#5f5f5f" stroke="#000" stroke-width="1"/>
<rect x="497.18" y="50.54" width="12.4" height="232.46" fill="#fff" stroke="#000" stroke-width="1"/>
<text transform="translate(257.6,272.4) rotate(-90)" font-size="15" font-weight="bold" textLength="199" lengthAdjust="spacingAndGlyphs">% CD95 specific Apoptosis</text>
<text x="312" y="300.5" font-size="14" font-weight="bold" text-anchor="start" >6 h</text>
<text x="361" y="300.5" font-size="14" font-weight="bold" text-anchor="start" >12 h</text>
<text x="413" y="300.5" font-size="14" font-weight="bold" text-anchor="start" >6 h</text>
<text x="462.5" y="300.5" font-size="14" font-weight="bold" text-anchor="start" >12 h</text>
<text x="300.4" y="319.6" font-size="17.6" font-weight="bold" text-anchor="start" >CD4 resting</text>
<text x="420.0" y="319.6" font-size="17.6" font-weight="bold" text-anchor="start" >CD4 PHA</text>
<text x="36.9" y="585" font-size="18" font-weight="bold" text-anchor="middle">0</text>
<text x="36.9" y="545.5" font-size="18" font-weight="bold" text-anchor="middle">5</text>
<text x="38.4" y="505.8" font-size="18" font-weight="bold" text-anchor="middle">10</text>
<text x="38.4" y="468" font-size="18" font-weight="bold" text-anchor="middle">15</text>
<text x="36.9" y="428.8" font-size="18" font-weight="bold" text-anchor="middle">20</text>
<text x="36.4" y="389" font-size="18" font-weight="bold" text-anchor="middle">25</text>
<text transform="translate(16.5,532.3) rotate(-90)" font-size="20.6" font-weight="normal" style="stroke-width:0" textLength="114.5" lengthAdjust="spacingAndGlyphs">% Apoptosis</text>
<rect x="68.60" y="441.00" width="17.30" height="131.60" fill="#fff" stroke="#000" stroke-width="1.9"/>
<path d="M76.3,426.40V457.40M72.00,426.40h8.6M72.00,457.40h8.6" stroke="#000" stroke-width="1.8" fill="none"/>
<rect x="111.70" y="452.40" width="16.20" height="120.20" fill="#fff" stroke="#000" stroke-width="1.9"/>
<path d="M119.8,430.80V473.50M115.50,430.80h8.6M115.50,473.50h8.6" stroke="#000" stroke-width="1.8" fill="none"/>
<rect x="153.70" y="504.40" width="17.60" height="68.20" fill="#fff" stroke="#000" stroke-width="1.9"/>
<path d="M162.6,496.50V512.70M158.30,496.50h8.6M158.30,512.70h8.6" stroke="#000" stroke-width="1.8" fill="none"/>
<rect x="197.00" y="496.10" width="15.80" height="76.50" fill="#fff" stroke="#000" stroke-width="1.9"/>
<path d="M204.2,490.70V500.80M199.90,490.70h8.6M199.90,500.80h8.6" stroke="#000" stroke-width="1.8" fill="none"/>
<rect x="238.80" y="498.70" width="17.90" height="73.90" fill="#fff" stroke="#000" stroke-width="1.9"/>
<path d="M247.4,495.20V501.80M243.10,495.20h8.6M243.10,501.80h8.6" stroke="#000" stroke-width="1.8" fill="none"/>
<rect x="301.80" y="408.50" width="18.40" height="165.30" fill="#fff" stroke="#000" stroke-width="1.9"/>
<path d="M311.2,398.10V419.90M306.90,395.40h8.6M306.90,419.90h8.6" stroke="#000" stroke-width="1.8" fill="none"/>
<rect x="346.40" y="404.70" width="18.60" height="169.10" fill="#fff" stroke="#000" stroke-width="1.9"/>
<path d="M355.7,395.40V414.10M351.40,395.40h8.6M351.40,414.10h8.6" stroke="#000" stroke-width="1.8" fill="none"/>
<rect x="390.50" y="443.90" width="17.60" height="129.90" fill="#fff" stroke="#000" stroke-width="1.9"/>
<path d="M398.8,433.80V453.30M394.50,433.80h8.6M394.50,453.30h8.6" stroke="#000" stroke-width="1.8" fill="none"/>
<rect x="433.20" y="447.25" width="19.00" height="126.55" fill="#fff" stroke="#000" stroke-width="1.9"/>
<path d="M442,447.25V448.60M437.70,447.25h8.6M437.70,448.60h8.6" stroke="#000" stroke-width="1.8" fill="none"/>
<rect x="477.20" y="446.10" width="19.00" height="127.70" fill="#fff" stroke="#000" stroke-width="1.9"/>
<path d="M485.8,439.20V454.20M481.50,439.20h8.6M481.50,454.20h8.6" stroke="#000" stroke-width="1.8" fill="none"/>
<path d="M55.8,377V572.6H268.7" fill="none" stroke="#000" stroke-width="1.7"/>
<path d="M289.2,573.8H508.5" fill="none" stroke="#000" stroke-width="1.7"/>
<path d="M54.8,377.0h-1.6M54.8,416.1h-1.6M54.8,455.2h-1.6M54.8,494.3h-1.6M54.8,533.4h-1.6" stroke="#000" stroke-width="0.9" fill="none"/>
<text x="157.3" y="383.2" font-size="14.2" font-weight="bold" text-anchor="start" >6 h</text>
<text x="400.3" y="380.3" font-size="13.4" font-weight="bold" text-anchor="start" >12 h</text>
<text x="57" y="591.3" font-size="13" font-weight="bold" letter-spacing="0.35">Etop</text>
<text x="102.2" y="591.3" font-size="13" font-weight="bold" letter-spacing="0.35">Nok2</text>
<text x="106.6" y="607.7" font-size="13" font-weight="bold" letter-spacing="0.35">1 <tspan font-style="italic">μ</tspan>g</text>
<text x="144.8" y="591.3" font-size="13" font-weight="bold" letter-spacing="0.35">Nok2</text>
<text x="148.4" y="607.7" font-size="13" font-weight="bold" letter-spacing="0.35">5 <tspan font-style="italic">μ</tspan>g</text>
<text x="186.7" y="591.3" font-size="13" font-weight="bold" letter-spacing="0.35">Nok2</text>
<text x="187.2" y="607.7" font-size="13" font-weight="bold" letter-spacing="0.35">10 <tspan font-style="italic">μ</tspan>g</text>
<text x="227.8" y="591.3" font-size="13" font-weight="bold" letter-spacing="0.35">Apo Fab</text>
<text x="232.3" y="607.7" font-size="13" font-weight="bold" letter-spacing="0.35">10 <tspan font-style="italic">μ</tspan>g</text>
<text x="293.7" y="591.3" font-size="13" font-weight="bold" letter-spacing="0.35">Etop</text>
<text x="338.9" y="591.3" font-size="13" font-weight="bold" letter-spacing="0.35">Nok2</text>
<text x="342.6" y="607.7" font-size="13" font-weight="bold" letter-spacing="0.35">1 <tspan font-style="italic">μ</tspan>g</text>
<text x="382.5" y="591.3" font-size="13" font-weight="bold" letter-spacing="0.35">Nok2</text>
<text x="385.6" y="607.7" font-size="13" font-weight="bold" letter-spacing="0.35">5 <tspan font-style="italic">μ</tspan>g</text>
<text x="424.1" y="591.3" font-size="13" font-weight="bold" letter-spacing="0.35">Nok2</text>
<text x="424.2" y="607.7" font-size="13" font-weight="bold" letter-spacing="0.35">10 <tspan font-style="italic">μ</tspan>g</text>
<text x="464.6" y="591.3" font-size="13" font-weight="bold" letter-spacing="0.35">Apo Fab</text>
<text x="469.2" y="607.7" font-size="13" font-weight="bold" letter-spacing="0.35">10 <tspan font-style="italic">μ</tspan>g</text>
</svg>
</body></html>
